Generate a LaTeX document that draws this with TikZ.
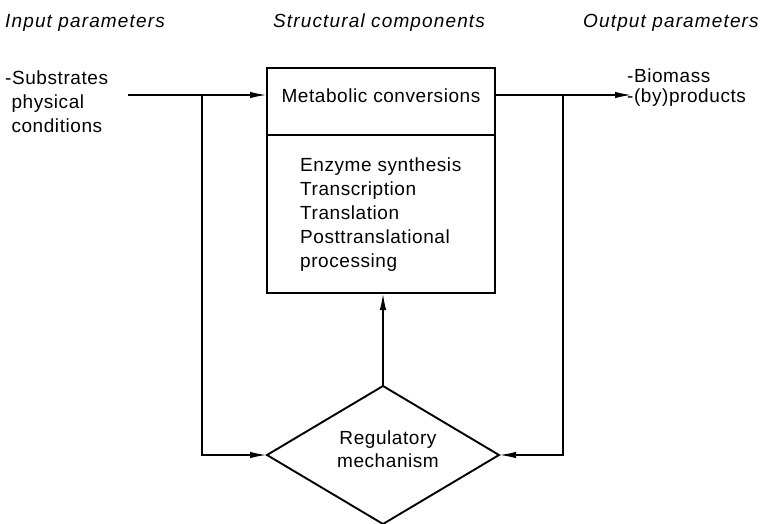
\documentclass[tikz,border=0pt]{standalone}
\usepackage{fontspec}
\setmainfont{Liberation Sans}[LetterSpace=3]
\usetikzlibrary{shapes.geometric,arrows.meta}
\begin{document}
\begin{tikzpicture}[x=1pt,y=-1pt,
  txt/.style={font=\fontsize{19}{24}\selectfont, inner sep=0, align=left},
  hdr/.style={font=\fontsize{19}{24}\selectfont\itshape\addfontfeature{LetterSpace=6}, inner sep=0, anchor=base west},
  box/.style={draw, line width=1.9pt, rectangle, inner sep=0, outer sep=0, minimum width=228pt},
  flow/.style={line width=1.8pt, -{Latex[length=17pt,width=6.5pt]}}
]
\useasboundingbox (0,0) rectangle (761,524);

% column headings
\node[hdr] (hIn)  at (5,28)   {Input parameters};
\node[hdr] (hMid) at (273,28) {Structural components};
\node[hdr] (hOut) at (583,28) {Output parameters};

% central block: conversions on top, synthesis steps below
\node[box, minimum height=67pt]  (meta)  at (381,101.5) {};
\node[box, minimum height=158pt] (steps) at (381,214) {};
\node[txt, anchor=base] (metaT) at (381,103) {Metabolic conversions};
\node[txt, anchor=north west] (stepsT) at (300,158)
  {Enzyme synthesis\\Transcription\\Translation\\Posttranslational\\processing};

% regulation
\node[draw, diamond, line width=1.9pt, inner sep=0, outer sep=0,
      minimum width=232pt, minimum height=138pt] (reg) at (383,455) {};
\node[txt, align=center, anchor=north, font=\fontsize{19}{23}\selectfont] (regT) at (388,431)
  {Regulatory\\mechanism};

% inputs and outputs
\node[txt, anchor=north west] (inT) at (5,71)
  {-Substrates\\\phantom{-}physical\\\phantom{-}conditions};
\node[txt, anchor=north west, font=\fontsize{19}{20}\selectfont] (outT) at (627,69)
  {-Biomass\\-(by)products};

\coordinate (inS)  at (128,95);
\coordinate (jL)   at (202,95);
\coordinate (jR)   at (563,95);
\coordinate (outE) at (632,95);

% connectors
\draw[flow] (inS) -- (inS -| meta.west);
\draw[flow] (inS -| meta.east) -- (outE);
\draw[flow] (jL) |- (reg.west);
\draw[flow] (jR) |- (reg.east);
\draw[flow] (reg.north) -- (reg.north |- steps.south);
\end{tikzpicture}
\end{document}
